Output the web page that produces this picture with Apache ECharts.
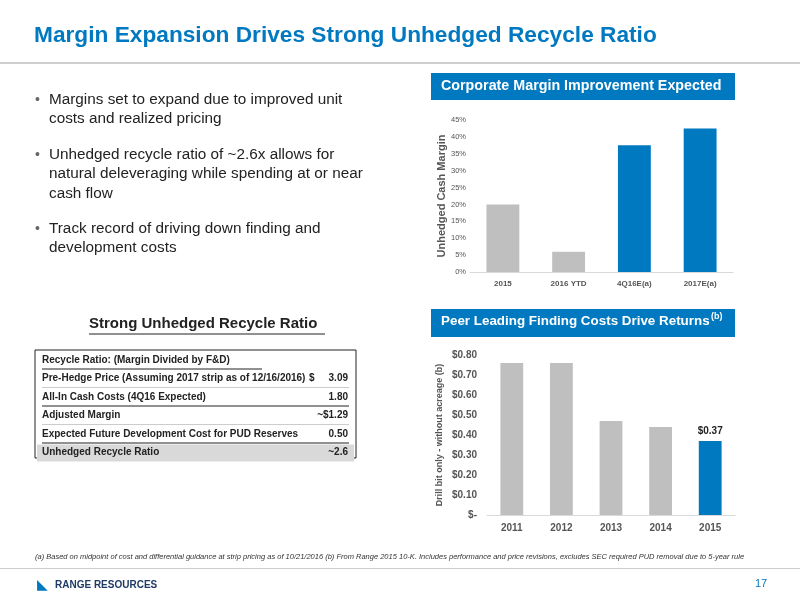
<!DOCTYPE html><html><head><meta charset="utf-8"><script src="https://cdn.jsdelivr.net/npm/echarts@6/dist/echarts.min.js"></script>
<style>body{margin:0}#c{width:800px;height:600px}</style></head><body><div id="c"></div><script>
var marginCats=['2015','2016 YTD','4Q16E(a)','2017E(a)'];
var marginVals=[20,6,37.5,42.5];
var costCats=['2011','2012','2013','2014','2015'];
var costVals=[0.76,0.76,0.47,0.44,0.37];
var tableRows=[['Recycle Ratio: (Margin Divided by F&D)',''],['Pre-Hedge Price (Assuming 2017 strip as of 12/16/2016)','3.09'],['All-In Cash Costs (4Q16 Expected)','1.80'],['Adjusted Margin','~$1.29'],['Expected Future Development Cost for PUD Reserves','0.50'],['Unhedged Recycle Ratio','~2.6']];
var blue='#0079C1',gray='#BFBFBF',F='Liberation Sans, Arial, sans-serif';
var g=[];
function T(x,y,t,s,o){g.push({type:'text',left:x,top:y,style:Object.assign({text:t,fontSize:s,fontFamily:F,fill:'#222'},o||{})});}
T(34,24,'Margin Expansion Drives Strong Unhedged Recycle Ratio',22.7,{fill:blue,fontWeight:'bold'});
g.push({type:'rect',shape:{x:0,y:62,width:800,height:2},style:{fill:'#cfcfcf'}});
g.push({type:'rect',shape:{x:431,y:73,width:304,height:27},style:{fill:blue}});
T(441,79,'Corporate Margin Improvement Expected',14.3,{fill:'#fff',fontWeight:'bold'});
g.push({type:'rect',shape:{x:431,y:309,width:304,height:28},style:{fill:blue}});
T(441,315,'Peer Leading Finding Costs Drive Returns',13.4,{fill:'#fff',fontWeight:'bold'});
T(711,312,'(b)',9,{fill:'#fff',fontWeight:'bold'});
var bl=[['Margins set to expand due to improved unit','costs and realized pricing'],['Unhedged recycle ratio of ~2.6x allows for','natural deleveraging while spending at or near','cash flow'],['Track record of driving down finding and','development costs']];
var by=[92,147,221];
bl.forEach(function(b,i){T(35,by[i]+1,'•',14,{fill:'#666'});b.forEach(function(l,j){T(49,by[i]+j*19.5,l,15.3);});});
T(89,316,'Strong Unhedged Recycle Ratio',15,{fontWeight:'bold'});
g.push({type:'line',shape:{x1:89,y1:334,x2:325,y2:334},style:{stroke:'#222',lineWidth:1}});
g.push({type:'rect',shape:{x:35,y:350,width:321,height:108},style:{fill:'none',stroke:'#222',lineWidth:1}});
tableRows.forEach(function(r,i){
 var y=351+i*18.5;
 if(i==5)g.push({type:'rect',shape:{x:37,y:y+1,width:317,height:17},style:{fill:'#D9D9D9'}});
 T(42,y+4,r[0],10,{fontWeight:'bold'});
 if(i==1)T(309,y+4,'$',10,{fontWeight:'bold'});
 if(r[1])g.push({type:'text',right:452,top:y+4,style:{text:r[1],fontSize:10,fontFamily:F,fontWeight:'bold',fill:'#222'}});
 if(i>0&&i<5)g.push({type:'line',shape:{x1:42,y1:y+18,x2:349,y2:y+18},style:{stroke:i==2||i==4?'#222':'#ccc',lineWidth:1}});
});
g.push({type:'line',shape:{x1:42,y1:369,x2:262,y2:369},style:{stroke:'#222',lineWidth:1}});
T(35,553,'(a) Based on midpoint of cost and differential guidance at strip pricing as of 10/21/2016 (b) From Range 2015 10-K. Includes performance and price revisions, excludes SEC required PUD removal due to 5-year rule',7.5,{fontStyle:'italic',fill:'#333'});
g.push({type:'rect',shape:{x:0,y:568,width:800,height:1},style:{fill:'#ccc'}});
T(37,578,'◣',14,{fill:blue});
T(55,580,'RANGE RESOURCES',10,{fill:'#1f3a64',fontWeight:'bold'});
T(755,578,'17',11,{fill:blue});
var ax={color:'#555',fontFamily:F,fontSize:8,fontWeight:'bold'};
echarts.init(document.getElementById('c')).setOption({animation:false,graphic:g,
grid:[{left:470,top:120,width:263,height:152},{left:487,top:355,width:248,height:160}],
xAxis:[{gridIndex:0,type:'category',data:marginCats,axisTick:{show:false},axisLine:{lineStyle:{color:'#d9d9d9'}},axisLabel:Object.assign({},ax)},
{gridIndex:1,type:'category',data:costCats,axisTick:{show:false},axisLine:{lineStyle:{color:'#d9d9d9'}},axisLabel:Object.assign({},ax,{fontSize:10})}],
yAxis:[{gridIndex:0,min:0,max:45,interval:5,splitLine:{show:false},axisLabel:Object.assign({},ax,{fontWeight:'normal',fontSize:7.5,margin:4,formatter:'{value}%'}),name:'Unhedged Cash Margin',nameLocation:'middle',nameGap:22,nameTextStyle:{color:'#555',fontSize:11,fontWeight:'bold',fontFamily:F}},
{gridIndex:1,min:0,max:0.8,interval:0.1,splitLine:{show:false},axisLabel:Object.assign({},ax,{fontSize:10,margin:10,formatter:function(v){return v==0?'$-':'$'+v.toFixed(2);}}),name:'Drill bit only - without acreage (b)',nameLocation:'middle',nameGap:43,nameTextStyle:{color:'#555',fontSize:9,fontWeight:'bold',fontFamily:F}}],
series:[{type:'bar',xAxisIndex:0,yAxisIndex:0,barWidth:'50%',data:marginVals.map(function(v,i){return{value:v,itemStyle:{color:i>1?blue:gray}};})},
{type:'bar',xAxisIndex:1,yAxisIndex:1,barWidth:'46%',data:costVals.map(function(v,i){return{value:v,itemStyle:{color:i==4?blue:gray},label:{show:i==4,position:'top',formatter:'$0.37',fontWeight:'bold',fontSize:10,color:'#222',fontFamily:F}};})}]
});
</script></body></html>
